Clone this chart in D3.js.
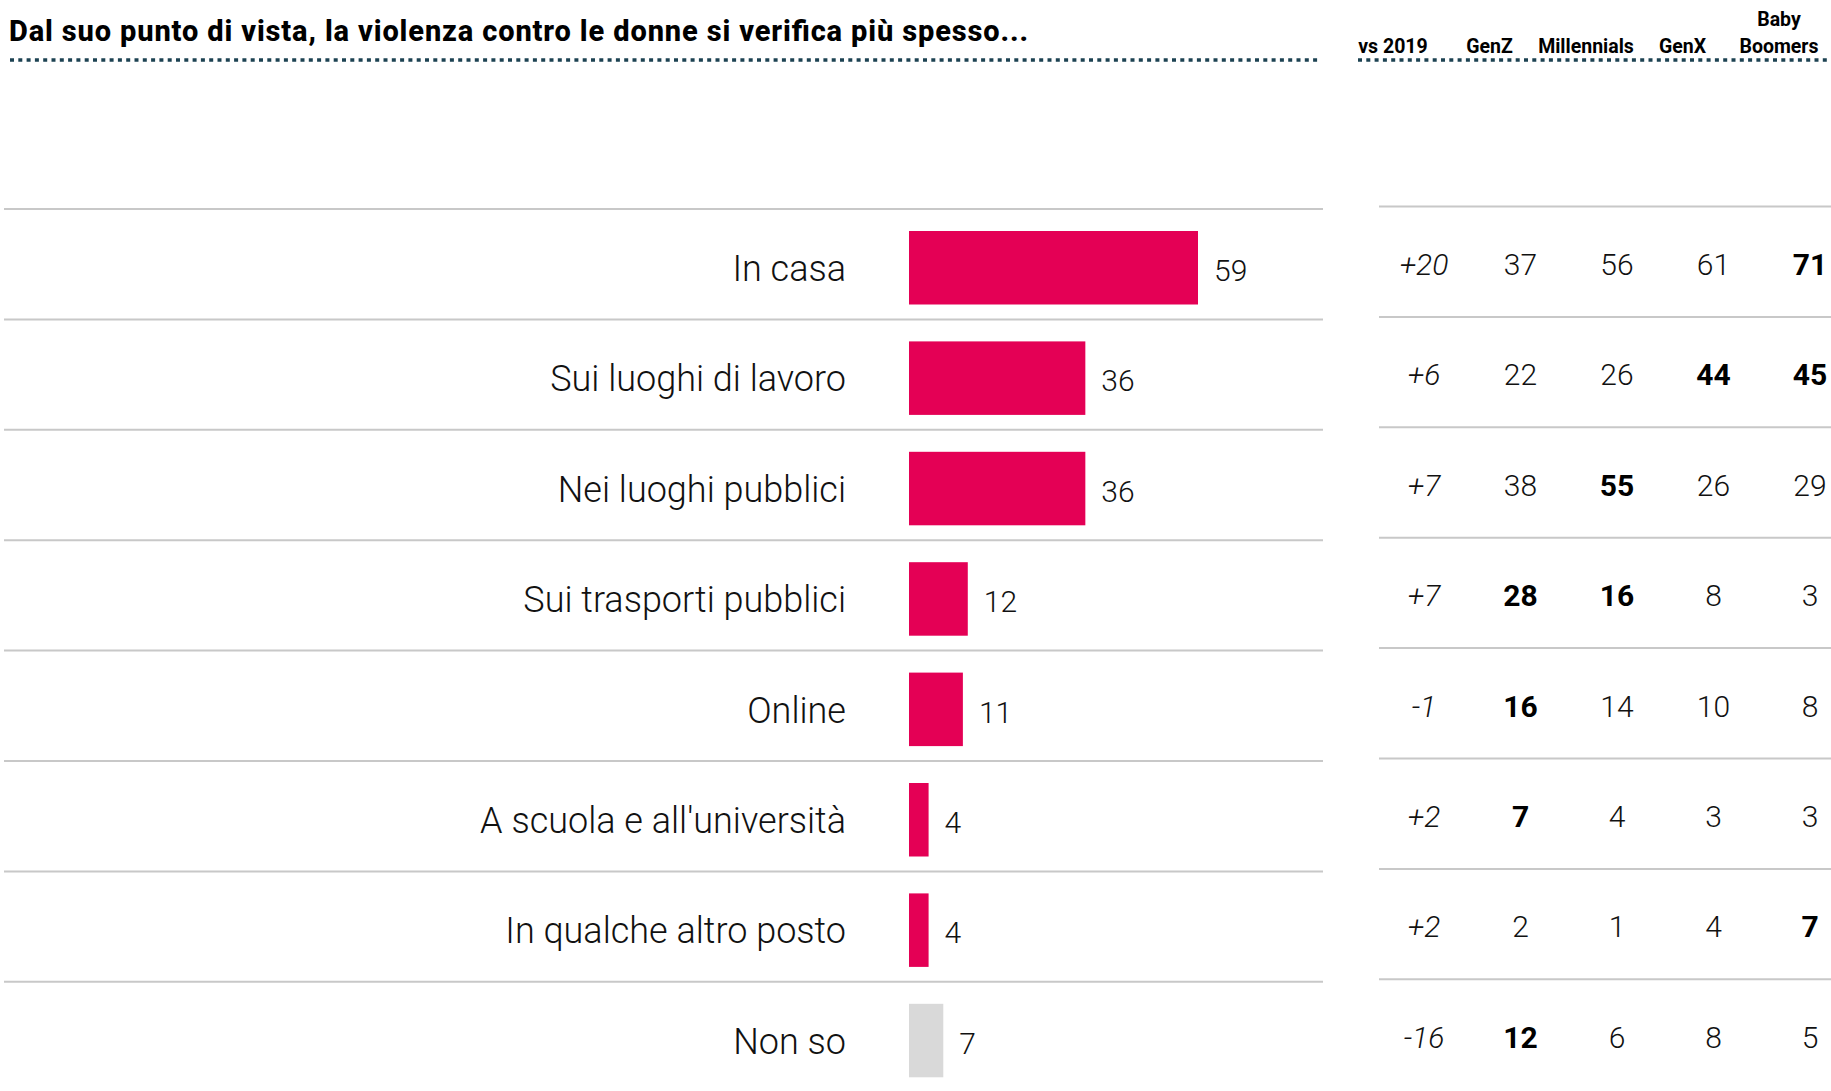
<!DOCTYPE html>
<html lang="it">
<head>
<meta charset="utf-8">
<title>Dove si verifica la violenza contro le donne</title>
<script src="https://cdn.jsdelivr.net/npm/d3@7"></script>
<style>
  html, body { margin: 0; padding: 0; background: #ffffff; }
  svg { display: block; font-family: Roboto, "Noto Sans", sans-serif; }
</style>
</head>
<body>
<svg id="chart" width="1831" height="1091"></svg>
<script>
// ---- Data -------------------------------------------------------------
const title = "Dal suo punto di vista, la violenza contro le donne si verifica più spesso...";

const categories = [
  "In casa",
  "Sui luoghi di lavoro",
  "Nei luoghi pubblici",
  "Sui trasporti pubblici",
  "Online",
  "A scuola e all'università",
  "In qualche altro posto",
  "Non so"
];

// share of respondents (%)
const totals = [59, 36, 36, 12, 11, 4, 4, 7];

// change vs 2019 (percentage points)
const vs2019 = ["+20", "+6", "+7", "+7", "-1", "+2", "+2", "-16"];

// generational breakdown (%)
const genZ        = [37, 22, 38, 28, 16, 7, 2, 12];
const millennials = [56, 26, 55, 16, 14, 4, 1, 6];
const genX        = [61, 44, 26, 8, 10, 3, 4, 8];
const boomers     = [71, 45, 29, 3, 8, 3, 7, 5];

// cells shown in bold, per generation column
const boldGenZ        = [false, false, false, true,  true,  true,  false, true];
const boldMillennials = [false, false, true,  true,  false, false, false, false];
const boldGenX        = [false, true,  false, false, false, false, false, false];
const boldBoomers     = [true,  true,  false, false, false, false, true,  false];

const columnHeaders = [["vs 2019"], ["GenZ"], ["Millennials"], ["GenX"], ["Baby", "Boomers"]];

// ---- Layout -----------------------------------------------------------
const svg = d3.select("#chart");
const W = 1831;

const COLOR_BAR = "#e40055";
const COLOR_NA = "#d9d9d9";
const COLOR_GRID = "#c8c8c8";
const COLOR_DOTS = "#1c4252";
const COLOR_TEXT = "#111111";

const rowTop = 209;
const rowH = 110.4;

const y = d3.scaleBand()
  .domain(categories)
  .range([rowTop, rowTop + rowH * categories.length])
  .paddingInner(0).paddingOuter(0);

const x = d3.scaleLinear()
  .domain([0, 59])
  .range([909, 1198]);

const colKeys = ["vs2019", "genZ", "millennials", "genX", "boomers"];
const cx = d3.scaleBand()
  .domain(colKeys)
  .range([1375.75, 1858.25]);

const rows = categories.map((c, i) => ({
  cat: c,
  total: totals[i],
  cells: [
    { key: "vs2019", text: vs2019[i], bold: false, italic: true },
    { key: "genZ", text: String(genZ[i]), bold: boldGenZ[i] },
    { key: "millennials", text: String(millennials[i]), bold: boldMillennials[i] },
    { key: "genX", text: String(genX[i]), bold: boldGenX[i] },
    { key: "boomers", text: String(boomers[i]), bold: boldBoomers[i] }
  ]
}));

// ---- Title & headers --------------------------------------------------
svg.append("text")
  .attr("x", 9)
  .attr("y", 41)
  .attr("font-size", 29)
  .attr("font-weight", 800)
  .attr("textLength", 1019)
  .attr("lengthAdjust", "spacing")
  .attr("fill", "#000")
  .text(title);

// dotted rules under the title and the table header
svg.append("line")
  .attr("x1", 10).attr("x2", 1320)
  .attr("y1", 60).attr("y2", 60)
  .attr("stroke", COLOR_DOTS).attr("stroke-width", 3.5)
  .attr("stroke-dasharray", "4,4.3");
svg.append("line")
  .attr("x1", 1358).attr("x2", W)
  .attr("y1", 60).attr("y2", 60)
  .attr("stroke", COLOR_DOTS).attr("stroke-width", 3.5)
  .attr("stroke-dasharray", "4,4.3");

const headerG = svg.append("g");
columnHeaders.forEach((lines, j) => {
  const hx = cx(colKeys[j]) + cx.bandwidth() / 2 - 31;
  const t = headerG.append("text")
    .attr("x", hx)
    .attr("text-anchor", "middle")
    .attr("font-size", 19.5)
    .attr("font-weight", 700)
    .attr("fill", "#000");
  lines.forEach((ln, k) => {
    t.append("tspan")
      .attr("x", hx)
      .attr("y", 53 - (lines.length - 1 - k) * 27)
      .text(ln);
  });
});

// ---- Gridlines --------------------------------------------------------
svg.append("g").selectAll("line")
  .data(categories)
  .join("line")
  .attr("x1", 4).attr("x2", 1323)
  .attr("y1", d => y(d)).attr("y2", d => y(d))
  .attr("stroke", COLOR_GRID).attr("stroke-width", 2);

svg.append("g").selectAll("line")
  .data(categories)
  .join("line")
  .attr("x1", 1379).attr("x2", W)
  .attr("y1", d => y(d) - 2.5).attr("y2", d => y(d) - 2.5)
  .attr("stroke", COLOR_GRID).attr("stroke-width", 2);

// ---- Bars -------------------------------------------------------------
const barG = svg.append("g");

barG.selectAll("text.cat")
  .data(rows)
  .join("text")
  .attr("class", "cat")
  .attr("x", 846)
  .attr("y", d => y(d.cat) + 72)
  .attr("text-anchor", "end")
  .attr("font-size", 36)
  .attr("font-weight", 300)
  .attr("fill", COLOR_TEXT)
  .text(d => d.cat);

barG.selectAll("rect")
  .data(rows)
  .join("rect")
  .attr("x", x(0))
  .attr("y", d => y(d.cat) + 22)
  .attr("width", d => x(d.total) - x(0))
  .attr("height", 73.5)
  .attr("fill", d => d.cat === "Non so" ? COLOR_NA : COLOR_BAR);

barG.selectAll("text.val")
  .data(rows)
  .join("text")
  .attr("class", "val")
  .attr("x", d => x(d.total) + 16)
  .attr("y", d => y(d.cat) + 72)
  .attr("font-size", 30)
  .attr("font-weight", 300)
  .attr("fill", COLOR_TEXT)
  .text(d => d.total);

// ---- Table ------------------------------------------------------------
const rowG = svg.append("g").selectAll("g")
  .data(rows)
  .join("g")
  .attr("transform", d => `translate(0,${y(d.cat) + 66})`);

rowG.selectAll("text")
  .data(d => d.cells)
  .join("text")
  .attr("x", c => cx(c.key) + cx.bandwidth() / 2)
  .attr("y", 0)
  .attr("text-anchor", "middle")
  .attr("font-size", 30)
  .attr("font-weight", c => c.bold ? 700 : 300)
  .attr("font-style", c => c.italic ? "italic" : "normal")
  .attr("fill", c => c.bold ? "#000" : COLOR_TEXT)
  .text(c => c.text);
</script>
</body>
</html>
